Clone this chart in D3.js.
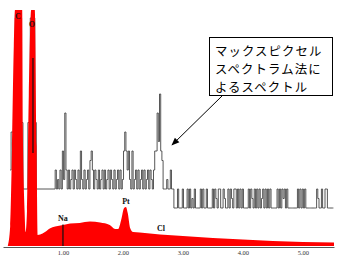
<!DOCTYPE html>
<html><head><meta charset="utf-8">
<script src="https://cdn.jsdelivr.net/npm/d3@7"></script>
<style>html,body{margin:0;padding:0;background:#fff;}svg{display:block;}</style>
</head><body>
<svg id="c" width="343" height="264"></svg>
<script>
// ---- data ----
// EDS spectrum (red, filled): energy keV, intensity
const redEnergy = [0.08,0.12,0.15,0.18,0.20,0.32,0.33,0.36,0.375,0.40,0.43,0.47,0.53,0.56,0.58,0.62,0.70,0.78,0.87,1.00,1.12,1.28,1.45,1.62,1.78,1.87,1.92,1.97,2.02,2.05,2.08,2.12,2.17,2.28,2.45,2.62,3.00,3.50,4.00,4.50,5.00,5.52];
const redCounts = [0,200,960,2000,3000,3000,1200,350,140,350,1500,3000,3000,1000,110,115,140,175,195,210,225,230,245,235,210,170,170,260,380,390,330,180,140,135,125,115,100,80,65,50,40,35];
// Max-pixel spectrum (grey/black): low-energy peak part
const maxPeakEnergy = [0.12,0.135,0.205,0.31,0.333,0.415,0.455,0.53,0.555];
const maxPeakCounts = [4,8,30,9,2,9,30,9,2];
// channel data from 0.85 keV, channel width 0.02 keV
const chanStart = 0.85, chanWidth = 0.02;
const maxCountsLow = [2,4,2,3,2,4,2,6,3,10, 4,2,4,2,3,4,2,4,3,2, 4,2,6,3,2,4,2,3,4,2, 5,6,4,2,4,3,2,4,2,3,
  4,2,4,2,3,4,2,4,3,2, 4,2,3,4,2,4,2,3,6,8, 6,4,6,3,2,6,2,3,4,2, 4,2,3,4,2,4,2,3,4,2, 4,3,2,4,6,6,10,7,12,6, 5,2,2,2,3,2,2,4,2];
const maxCountsHigh = [2,0,0,0,2,0,0,0,2,0, 0,0,2,0,2,0,1,0,2,0, 0,0,0,2,0,2,0,0,2,0, 0,0,0,2,0,2,1,0,2,2,
  0,0,2,1,0,0,2,0,2,1, 0,2,2,0,2,0,2,0,2,0, 0,0,0,2,0,2,1,0,2,0, 2,0,2,0,1,2,0,2,0,2, 0,2,0,0,0,0,0,2,0,2,
  0,2,1,2,0,2,0,0,0,0, 0,0,0,0,2,0,2,0,2,0, 2,0,0,0,0,0,0,0,0,0, 2,1,0,0,2,0,0,2,2,0, 0,0,0,0,0];
// element markers
const elements = [
  {name:"C",  e:0.25, labelE:0.25, labelCount:2270, size:7.5},
  {name:"O",  e:0.50, labelE:0.483, labelCount:2190, top:1880, bottom:930, size:7.5},
  {name:"Na", e:1.00, labelE:1.00, labelCount:250, top:215, bottom:0, size:8},
  {name:"Pt", e:2.05, labelE:2.05, labelCount:420, size:8},
  {name:"Cl", e:2.635, labelE:2.635, labelCount:150, size:8}
];
const tickValues = [1,2,3,4,5];
const calloutLines = ["マックスピクセル","スペクトラム法に","よるスペクトル"];

// ---- scales ----
const svg = d3.select("#c");
const x = d3.scaleLinear().domain([0,5.52]).range([3,334]);
const yRed = d3.scaleLinear().domain([0,2360]).range([246,10]).clamp(true);
const yMax = d3.scaleLinear().domain([0,20]).range([208,18]).clamp(true);

// grey max-pixel trace (drawn first, red on top)
const maxData = [];
maxPeakEnergy.forEach((e,i)=>maxData.push([e,maxPeakCounts[i]]));
maxCountsLow.forEach((c,i)=>maxData.push([chanStart+i*chanWidth,c]));
const startHigh = chanStart+maxCountsLow.length*chanWidth;
maxCountsHigh.forEach((c,i)=>maxData.push([startHigh+i*chanWidth,c]));

const maxLine = d3.line().x(d=>x(d[0])).y(d=>yMax(d[1])).curve(d3.curveStepAfter);
svg.append("path").datum(maxData).attr("d",maxLine)
  .attr("fill","none").attr("stroke","#444").attr("stroke-width",0.9);

// red area
const redData = redEnergy.map((e,i)=>[e,redCounts[i]]);
const area = d3.area().x(d=>x(d[0])).y0(yRed(0)).y1(d=>yRed(d[1])).curve(d3.curveMonotoneX);
svg.append("path").datum(redData).attr("d",area).attr("fill","#ff0000");

// axis
const ax = svg.append("g").attr("transform",`translate(0,${yRed(0)+1})`)
  .call(d3.axisBottom(x).tickValues(tickValues).tickFormat(d3.format(".2f")).tickSize(0).tickPadding(3));
ax.select(".domain").attr("stroke","#555");
ax.selectAll("text").attr("font-family","Liberation Serif").attr("font-size","6.5px").attr("fill","#333");

// element markers
elements.forEach(el=>{
  if(el.top!=null){
    svg.append("line").attr("x1",x(el.e)).attr("x2",x(el.e))
      .attr("y1",yRed(el.top)).attr("y2",yRed(el.bottom))
      .attr("stroke","#111").attr("stroke-width",1.2);
  }
  svg.append("text").attr("x",x(el.labelE)).attr("y",yRed(el.labelCount))
    .attr("text-anchor","middle").attr("font-family","Liberation Serif").attr("font-weight","bold")
    .attr("font-size",el.size+"px").attr("fill","#111").text(el.name);
});

// callout
svg.append("defs").append("marker").attr("id","ah").attr("viewBox","0 0 10 10")
  .attr("refX",9).attr("refY",5).attr("markerWidth",8).attr("markerHeight",8).attr("orient","auto")
  .append("path").attr("d","M0,1 L10,5 L0,9 Z").attr("fill","#000");
svg.append("line").attr("x1",222).attr("y1",96).attr("x2",172).attr("y2",145)
  .attr("stroke","#000").attr("stroke-width",1).attr("marker-end","url(#ah)");
svg.append("rect").attr("x",209.5).attr("y",37.5).attr("width",123).attr("height",58)
  .attr("fill","#fff").attr("stroke","#000").attr("stroke-width",1);
calloutLines.forEach((t,i)=>{
  svg.append("text").attr("x",215).attr("y",56+i*18).attr("font-family","Noto Sans CJK JP")
    .attr("font-size","12.4px").attr("letter-spacing","1.1px").attr("fill","#000").text(t);
});
</script>
</body></html>
